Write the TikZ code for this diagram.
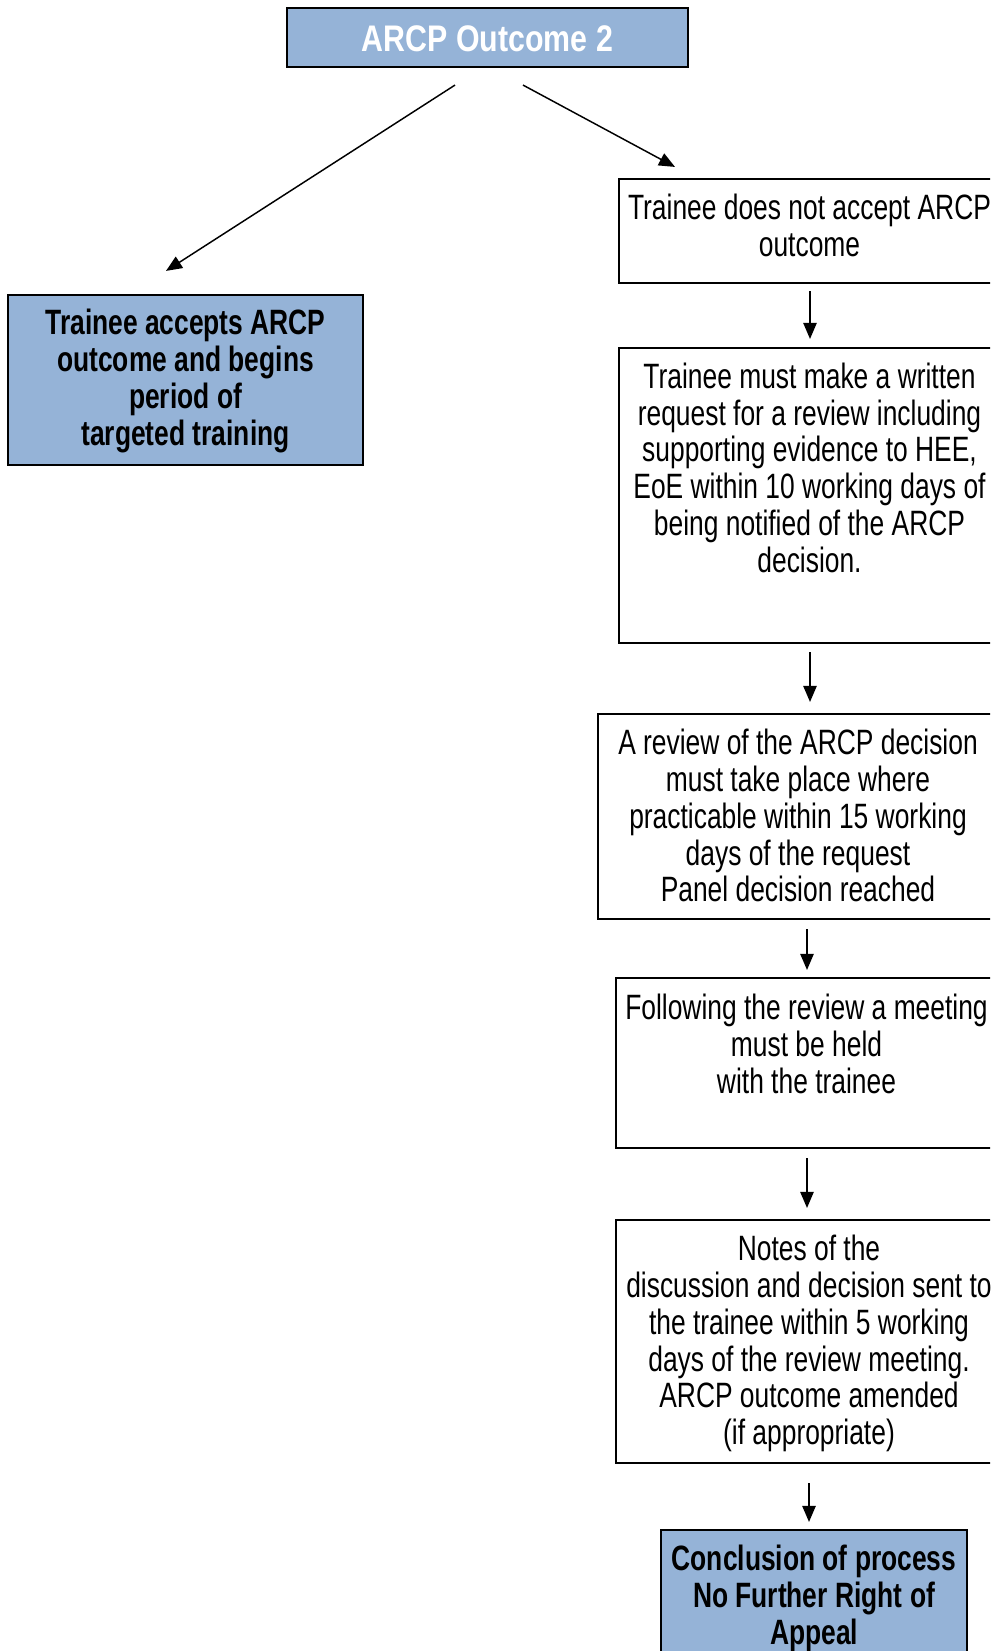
\documentclass[tikz,border=0pt]{standalone}
\usepackage{fontspec}
\setmainfont{Liberation Sans}[FakeStretch=0.75]
\newfontfamily\titlefont{Liberation Sans}[FakeStretch=0.82]
\usetikzlibrary{arrows.meta,calc}
\definecolor{boxblue}{HTML}{95B3D7}
\tikzset{
  box/.style={draw=black, line width=1.6pt, rectangle, inner sep=0pt},
  bluebox/.style={box, fill=boxblue},
  txt/.style={align=center, inner sep=0pt, font=\fontsize{26.4pt}{27.6pt}\selectfont},
  btxt/.style={txt, font=\fontsize{26.4pt}{27.6pt}\selectfont\bfseries},
  arr/.style={line width=1.1pt, -{Triangle[length=12pt,width=10pt]}},
}
\begin{document}
\begin{tikzpicture}[x=0.75pt,y=-0.75pt]
\useasboundingbox (0,0) rectangle (990,1651);
\clip (0,0) rectangle (990,1651);
% boxes
\node[bluebox, minimum width=401*0.75pt, minimum height=59*0.75pt] (top) at (487.5,37.5) {};
\node[inner sep=0pt, text=white, font=\titlefont\fontsize{27.75pt}{28pt}\selectfont\bfseries] (toptxt) at (487.5,39) {ARCP Outcome 2};

\node[bluebox, minimum width=355*0.75pt, minimum height=170*0.75pt] (left) at (185.5,380) {};
\node[btxt] (lefttxt) at (185.5,381) {Trainee accepts ARCP\\outcome and begins\\period of\\targeted training};

\node[box, minimum width=381*0.75pt, minimum height=104*0.75pt] (b1) at (809.5,231) {};
\node[txt, anchor=north] (b1t) at (809.5,194) {Trainee does not accept ARCP\\outcome};

\node[box, minimum width=381*0.75pt, minimum height=295*0.75pt] (b2) at (809.5,495.5) {};
\node[txt, anchor=north] (b2t) at (809.5,362.5) {Trainee must make a written\\request for a review including\\supporting evidence to HEE,\\EoE within 10 working days of\\being notified of the ARCP\\decision.};

\node[box, minimum width=402*0.75pt, minimum height=205*0.75pt] (b3) at (799,816.5) {};
\node[txt, anchor=north] (b3t) at (798,729) {A review of the ARCP decision\\must take place where\\practicable within 15 working\\days of the request\\Panel decision reached};

\node[box, minimum width=384*0.75pt, minimum height=170*0.75pt] (b4) at (808,1063) {};
\node[txt, anchor=north] (b4t) at (806.5,994) {Following the review a meeting\\must be held\\with the trainee};

\node[box, minimum width=386*0.75pt, minimum height=243*0.75pt] (b5) at (809,1341.5) {};
\node[txt, anchor=north] (b5t) at (809,1235) {Notes of the\\discussion and decision sent to\\the trainee within 5 working\\days of the review meeting.\\ARCP outcome amended\\(if appropriate)};

\node[bluebox, minimum width=306*0.75pt, minimum height=180*0.75pt] (b6) at (814,1620) {};
\node[btxt, anchor=north] (b6t) at (814,1545) {Conclusion of process\\No Further Right of\\Appeal};

% connectors
\draw[arr] ($(top.south)+(-32.5,17)$) -- ($(left.north)+(-19.5,-23)$);
\draw[arr] ($(top.south)+(35.5,17)$) -- ($(b1.north)+(-134.5,-11)$);
\draw[arr] ($(b1.south)+(0.5,7)$) -- ($(b2.north)+(0.5,-8)$);
\draw[arr] ($(b2.south)+(0.5,8)$) -- ($(b3.north)+(11,-11)$);
\draw[arr] ($(b3.south)+(8,9)$) -- ($(b4.north)+(-1,-7)$);
\draw[arr] ($(b4.south)+(-1,9)$) -- ($(b5.north)+(-2,-11)$);
\draw[arr] ($(b5.south)+(0,19)$) -- ($(b6.north)+(-5,-7)$);
\end{tikzpicture}
\end{document}
